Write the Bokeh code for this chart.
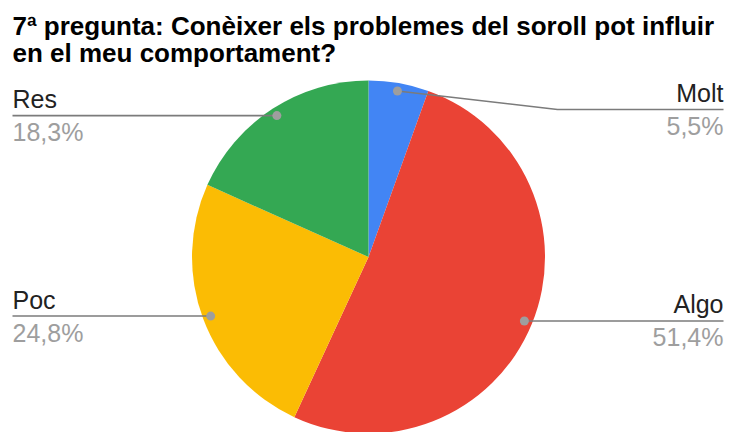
import numpy as np
from bokeh.plotting import figure
from bokeh.models import Range1d
from bokeh.core.properties import value
from bokeh.embed import file_html
from bokeh.resources import INLINE

# ---- data ----
categories = ["Molt", "Algo", "Poc", "Res"]
percents = [5.5, 51.4, 24.8, 18.3]
pct_labels = ["5,5%", "51,4%", "24,8%", "18,3%"]
colors = ["#4285F4", "#EA4335", "#FBBC04", "#34A853"]
title_lines = ["7ª pregunta: Conèixer els problemes del soroll pot influir",
               "en el meu comportament?"]

# ---- layout (reference pixel coords; y measured from top) ----
W, H = 729, 432
def Y(ry):
    return H - ry

p = figure(width=W, height=H, x_range=Range1d(0, W), y_range=Range1d(0, H),
           output_backend="svg", toolbar_location=None, min_border=0)
p.axis.visible = False
p.grid.visible = False
p.outline_line_color = None
p.background_fill_color = "white"
p.border_fill_color = "white"

cx, cy, R = 368.0, Y(256.5), 176.5
frac = np.array(percents) / sum(percents)
cum = np.concatenate([[0.0], np.cumsum(frac)])
start = list(np.pi / 2 - 2 * np.pi * cum[1:])
end = list(np.pi / 2 - 2 * np.pi * cum[:-1])
p.wedge(x=[cx] * 4, y=[cy] * 4, radius=R, start_angle=start, end_angle=end,
        fill_color=colors, line_color=None)

# leader dots
mid = (cum[:-1] + cum[1:]) / 2
ang = np.pi / 2 - 2 * np.pi * mid
rd = 168.5
dx = cx + rd * np.cos(ang)
dy = cy + rd * np.sin(ang)

side = ["right", "right", "left", "left"]
xs, ys, line_y = [], [], []
for i in range(4):
    x_end = 723 if side[i] == "right" else 12
    if categories[i] == "Molt":
        ly = Y(109)
        xs.append([dx[i], 557, x_end])
        ys.append([dy[i], ly, ly])
    else:
        ly = dy[i]
        xs.append([dx[i], x_end])
        ys.append([ly, ly])
    line_y.append(ly)

p.multi_line(xs=xs, ys=ys, line_color="#7b7b7b", line_width=1.6)
p.scatter(x=list(dx), y=list(dy), size=9, fill_color="#9e9e9e", line_color=None)

font = value("Liberation Sans")
for s, xpos, align in [("right", 723, "right"), ("left", 12, "left")]:
    idx = [i for i in range(4) if side[i] == s]
    p.text(x=[xpos] * len(idx), y=[line_y[i] + 16.5 for i in idx],
           text=[categories[i] for i in idx], text_align=align,
           text_baseline="alphabetic", text_font=font, text_font_size="25px",
           text_color="#222222")
    p.text(x=[xpos] * len(idx), y=[line_y[i] - 16.5 for i in idx],
           text=[pct_labels[i] for i in idx], text_align=align,
           text_baseline="alphabetic", text_font=font, text_font_size="25px",
           text_color="#9e9e9e")

# title
p.text(x=[12, 12], y=[Y(25), Y(52)], text=title_lines, text_align="left",
       text_baseline="alphabetic", text_font=font, text_font_size="26px",
       text_font_style="bold", text_color="#000000")

open("out.html", "w").write(file_html(p, INLINE))
